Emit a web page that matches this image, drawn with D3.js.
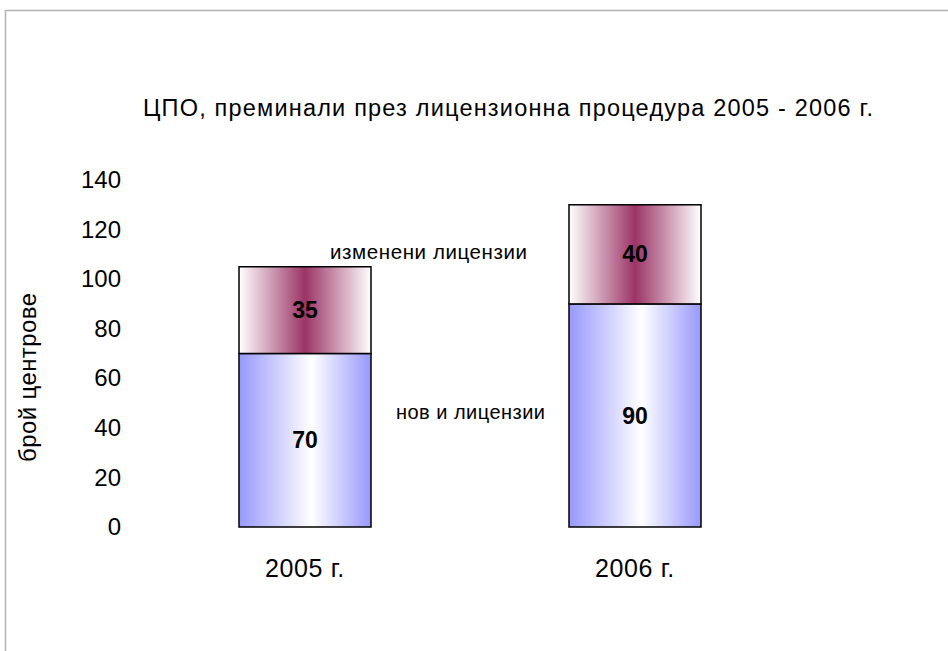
<!DOCTYPE html>
<html>
<head>
<meta charset="utf-8">
<script src="https://cdn.jsdelivr.net/npm/d3@7"></script>
<style>
  body { margin: 0; background: #fff; }
  text { font-family: "Liberation Sans", Arial, sans-serif; fill: #000; }
</style>
</head>
<body>
<script>
const years = ["2005 г.", "2006 г."],
    newLic = [70, 90],
    changedLic = [35, 40],
    yTicks = [0, 20, 40, 60, 80, 100, 120, 140];

const svgWidth = 948,
    svgHeight = 651;

var svg = d3.select("body").append("svg")
    .attr("width", svgWidth)
    .attr("height", svgHeight);

// light frame around the plot area (top and left edges only show)
svg.append("path")
    .attr("d", "M5.5,651V10.5H948")
    .attr("fill", "none")
    .attr("stroke", "#b4b4b4")
    .attr("stroke-width", 1.5);

var defs = svg.append("defs");

var blue = defs.append("linearGradient").attr("id", "gBlue");
blue.append("stop").attr("offset", "0%").attr("stop-color", "#9898fc");
blue.append("stop").attr("offset", "55%").attr("stop-color", "#ffffff");
blue.append("stop").attr("offset", "100%").attr("stop-color", "#9898fc");

var maroon = defs.append("linearGradient").attr("id", "gMaroon");
maroon.append("stop").attr("offset", "0%").attr("stop-color", "#ffffff");
maroon.append("stop").attr("offset", "50%").attr("stop-color", "#9b3466");
maroon.append("stop").attr("offset", "100%").attr("stop-color", "#ffffff");

var x = d3.scaleBand()
    .domain(years)
    .range([74, 866])
    .paddingInner(0.6)
    .paddingOuter(0.5);

var y = d3.scaleLinear()
    .domain([0, 140])
    .range([527, 180]);

// title
svg.append("text")
    .attr("x", 143)
    .attr("y", 116)
    .attr("textLength", 730)
    .attr("lengthAdjust", "spacing")
    .style("font-size", "23.5px")
    .text("ЦПО, преминали през лицензионна процедура 2005 - 2006 г.");

// y axis (labels only)
var yAxis = svg.append("g")
    .attr("transform", "translate(127,0)")
    .call(d3.axisLeft(y).tickValues(yTicks).tickSize(0).tickPadding(6));
yAxis.select(".domain").remove();
yAxis.selectAll("text")
    .style("font-family", "'Liberation Sans', Arial, sans-serif")
    .style("font-size", "24px")
    .attr("fill", "#000");

svg.append("text")
    .attr("transform", "translate(36,462) rotate(-90)")
    .attr("textLength", 169)
    .attr("lengthAdjust", "spacing")
    .style("font-size", "24px")
    .text("брой центрове");

// category labels
svg.selectAll(".cat")
    .data(years).enter()
    .append("text")
    .attr("class", "cat")
    .attr("x", function (d) { return x(d) + x.bandwidth() / 2; })
    .attr("y", 577)
    .attr("text-anchor", "middle")
    .style("font-size", "25px")
    .style("letter-spacing", "0.6px")
    .text(function (d) { return d; });

// stacked bars
var rows = years.map(function (d, i) {
    return { year: d, base: newLic[i], top: changedLic[i] };
});

var bars = svg.append("g").selectAll("g")
    .data(rows).enter()
    .append("g");

bars.append("rect")
    .attr("x", function (d) { return x(d.year); })
    .attr("y", function (d) { return y(d.base); })
    .attr("width", x.bandwidth())
    .attr("height", function (d) { return y(0) - y(d.base); })
    .attr("fill", "url(#gBlue)")
    .attr("stroke", "#000")
    .attr("stroke-width", 1.5);

bars.append("rect")
    .attr("x", function (d) { return x(d.year); })
    .attr("y", function (d) { return y(d.base + d.top); })
    .attr("width", x.bandwidth())
    .attr("height", function (d) { return y(d.base) - y(d.base + d.top); })
    .attr("fill", "url(#gMaroon)")
    .attr("stroke", "#000")
    .attr("stroke-width", 1.5);

bars.append("text")
    .attr("x", function (d) { return x(d.year) + x.bandwidth() / 2; })
    .attr("y", function (d) { return y(d.base / 2); })
    .attr("dy", "0.35em")
    .attr("text-anchor", "middle")
    .style("font-size", "23px")
    .style("font-weight", "bold")
    .text(function (d) { return d.base; });

bars.append("text")
    .attr("x", function (d) { return x(d.year) + x.bandwidth() / 2; })
    .attr("y", function (d) { return y(d.base + d.top / 2); })
    .attr("dy", "0.35em")
    .attr("text-anchor", "middle")
    .style("font-size", "23px")
    .style("font-weight", "bold")
    .text(function (d) { return d.top; });

// series notes between the bars
svg.append("text")
    .attr("x", 330)
    .attr("y", 259)
    .attr("textLength", 197)
    .attr("lengthAdjust", "spacing")
    .style("font-size", "20.5px")
    .text("изменени лицензии");

svg.append("text")
    .attr("x", 396)
    .attr("y", 419)
    .attr("textLength", 149)
    .attr("lengthAdjust", "spacing")
    .style("font-size", "20px")
    .text("нов и лицензии");
</script>
</body>
</html>
